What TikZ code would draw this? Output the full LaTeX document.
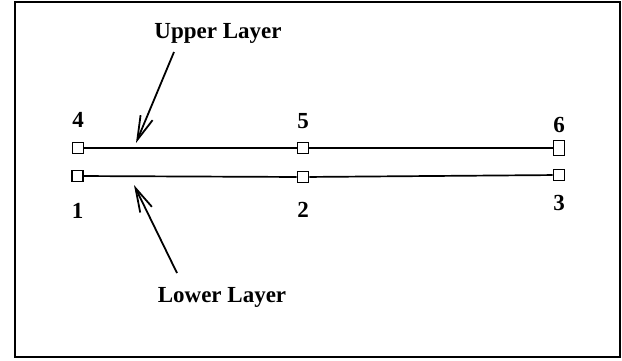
\documentclass[tikz,border=0pt]{standalone}
\usepackage{fontspec}
\setmainfont{Liberation Serif}
\usepackage{tikz}
\usetikzlibrary{positioning,arrows.meta}

\begin{document}
\begin{tikzpicture}[x=1pt,y=-1pt,
	pt/.style={draw, rectangle, line width=1.6pt, minimum size=11pt, inner sep=0pt},
	lbl/.style={inner sep=0pt, font=\fontsize{23}{26}\selectfont\bfseries},
	ptr/.style={line width=1.8pt, -{Straight Barb[length=24pt, width=13pt, line width=1.8pt]}}]
	\useasboundingbox (0,0) rectangle (622,360);
	\draw[line width=2.2pt] (15,2) rectangle (620,357);
	
	% upper layer
	\node (n4) at (78,148) [pt]{};
	\node (n5) at (303,148) [pt]{};
	\node (n6) at (559,148) [pt, minimum height=15pt]{};
	% lower layer
	\node (n1) at (77.5,176) [pt]{};
	\node (n2) at (303,177) [pt]{};
	\node (n3) at (559,175) [pt]{};
	
	\draw [line width=1.7pt] (n4) -- (n5) -- (n6);
	\draw [line width=1.7pt] (n1) -- (n2) -- (n3);
	
	\node (t4) [lbl, above=14pt of n4] {4};
	\node (t5) [lbl, above=13pt of n5] {5};
	\node (t6) [lbl, above=7pt of n6] {6};
	\node (t1) [lbl, below=21pt of n1] {1};
	\node (t2) [lbl, below=19pt of n2] {2};
	\node (t3) [lbl, below=14pt of n3] {3};
	
	\node (up) at (218,33) [lbl] {Upper Layer};
	\node (lo) at (222,297) [lbl] {Lower Layer};
	\coordinate (a) at (174,52);
	\coordinate (b) at (136,143);
	\coordinate (c) at (177,273);
	\coordinate (d) at (134,185);
	\draw [ptr] (a) -- (b);
	\draw [ptr] (c) -- (d);
\end{tikzpicture}
\end{document}
